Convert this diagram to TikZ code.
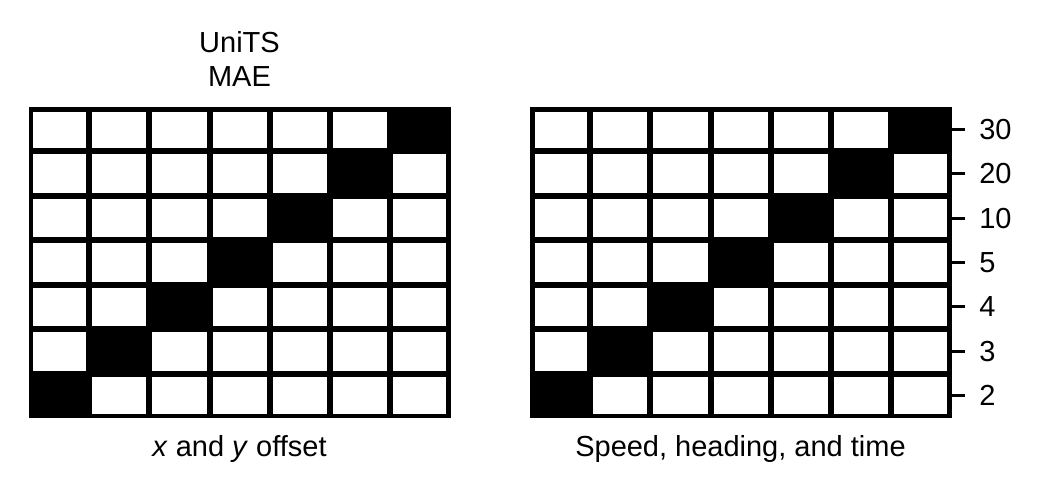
\documentclass[tikz,border=0pt]{standalone}
\usepackage{fontspec}
\setmainfont{Liberation Sans}
\usetikzlibrary{calc}

\begin{document}
\begin{tikzpicture}[x=0.02cm,y=-0.02cm,
  lbl/.style={font=\fontsize{16.5}{19}\selectfont, inner sep=0pt},
  tick/.style={line width=0.06cm}]
\useasboundingbox (0,0) rectangle (1041,495);
% two 7x7 grids, black cells on the diagonal
\foreach \ox in {29,530}{
  \fill[black] (\ox,107) rectangle ++(421.5,311);
  \foreach \c in {0,...,6}
    \foreach \r in {0,...,6}{
      \pgfmathtruncatemacro{\d}{\c+\r}
      \ifnum\d=6\else
        \fill[white] (\ox+\c*60.21+3,107+\r*44.43+3) rectangle ++(54.2,38.4);
      \fi}
  \draw[line width=0.09cm] (\ox+2.25,109.25) rectangle (\ox+419.25,415.75);
}
% ticks on the right
\foreach \r/\v in {0/30,1/20,2/10,3/5,4/4,5/3,6/2}{
  \coordinate (t\r) at (951.5,129.2+\r*44.43);
  \draw[tick] (t\r) -- ++(13.5,0);
  \node[lbl, anchor=west] (v\r) at (979,129.2+\r*44.43) {\v};
}
\node[lbl, align=center, anchor=south] (title) at (239.5,86.7) {UniTS\\MAE};
\node[lbl, anchor=base] (xlab) at (239.5,456) {\textit{x} and \textit{y} offset};
\node[lbl, anchor=base] (slab) at (740.5,456) {Speed, heading, and time};
\end{tikzpicture}
\end{document}
